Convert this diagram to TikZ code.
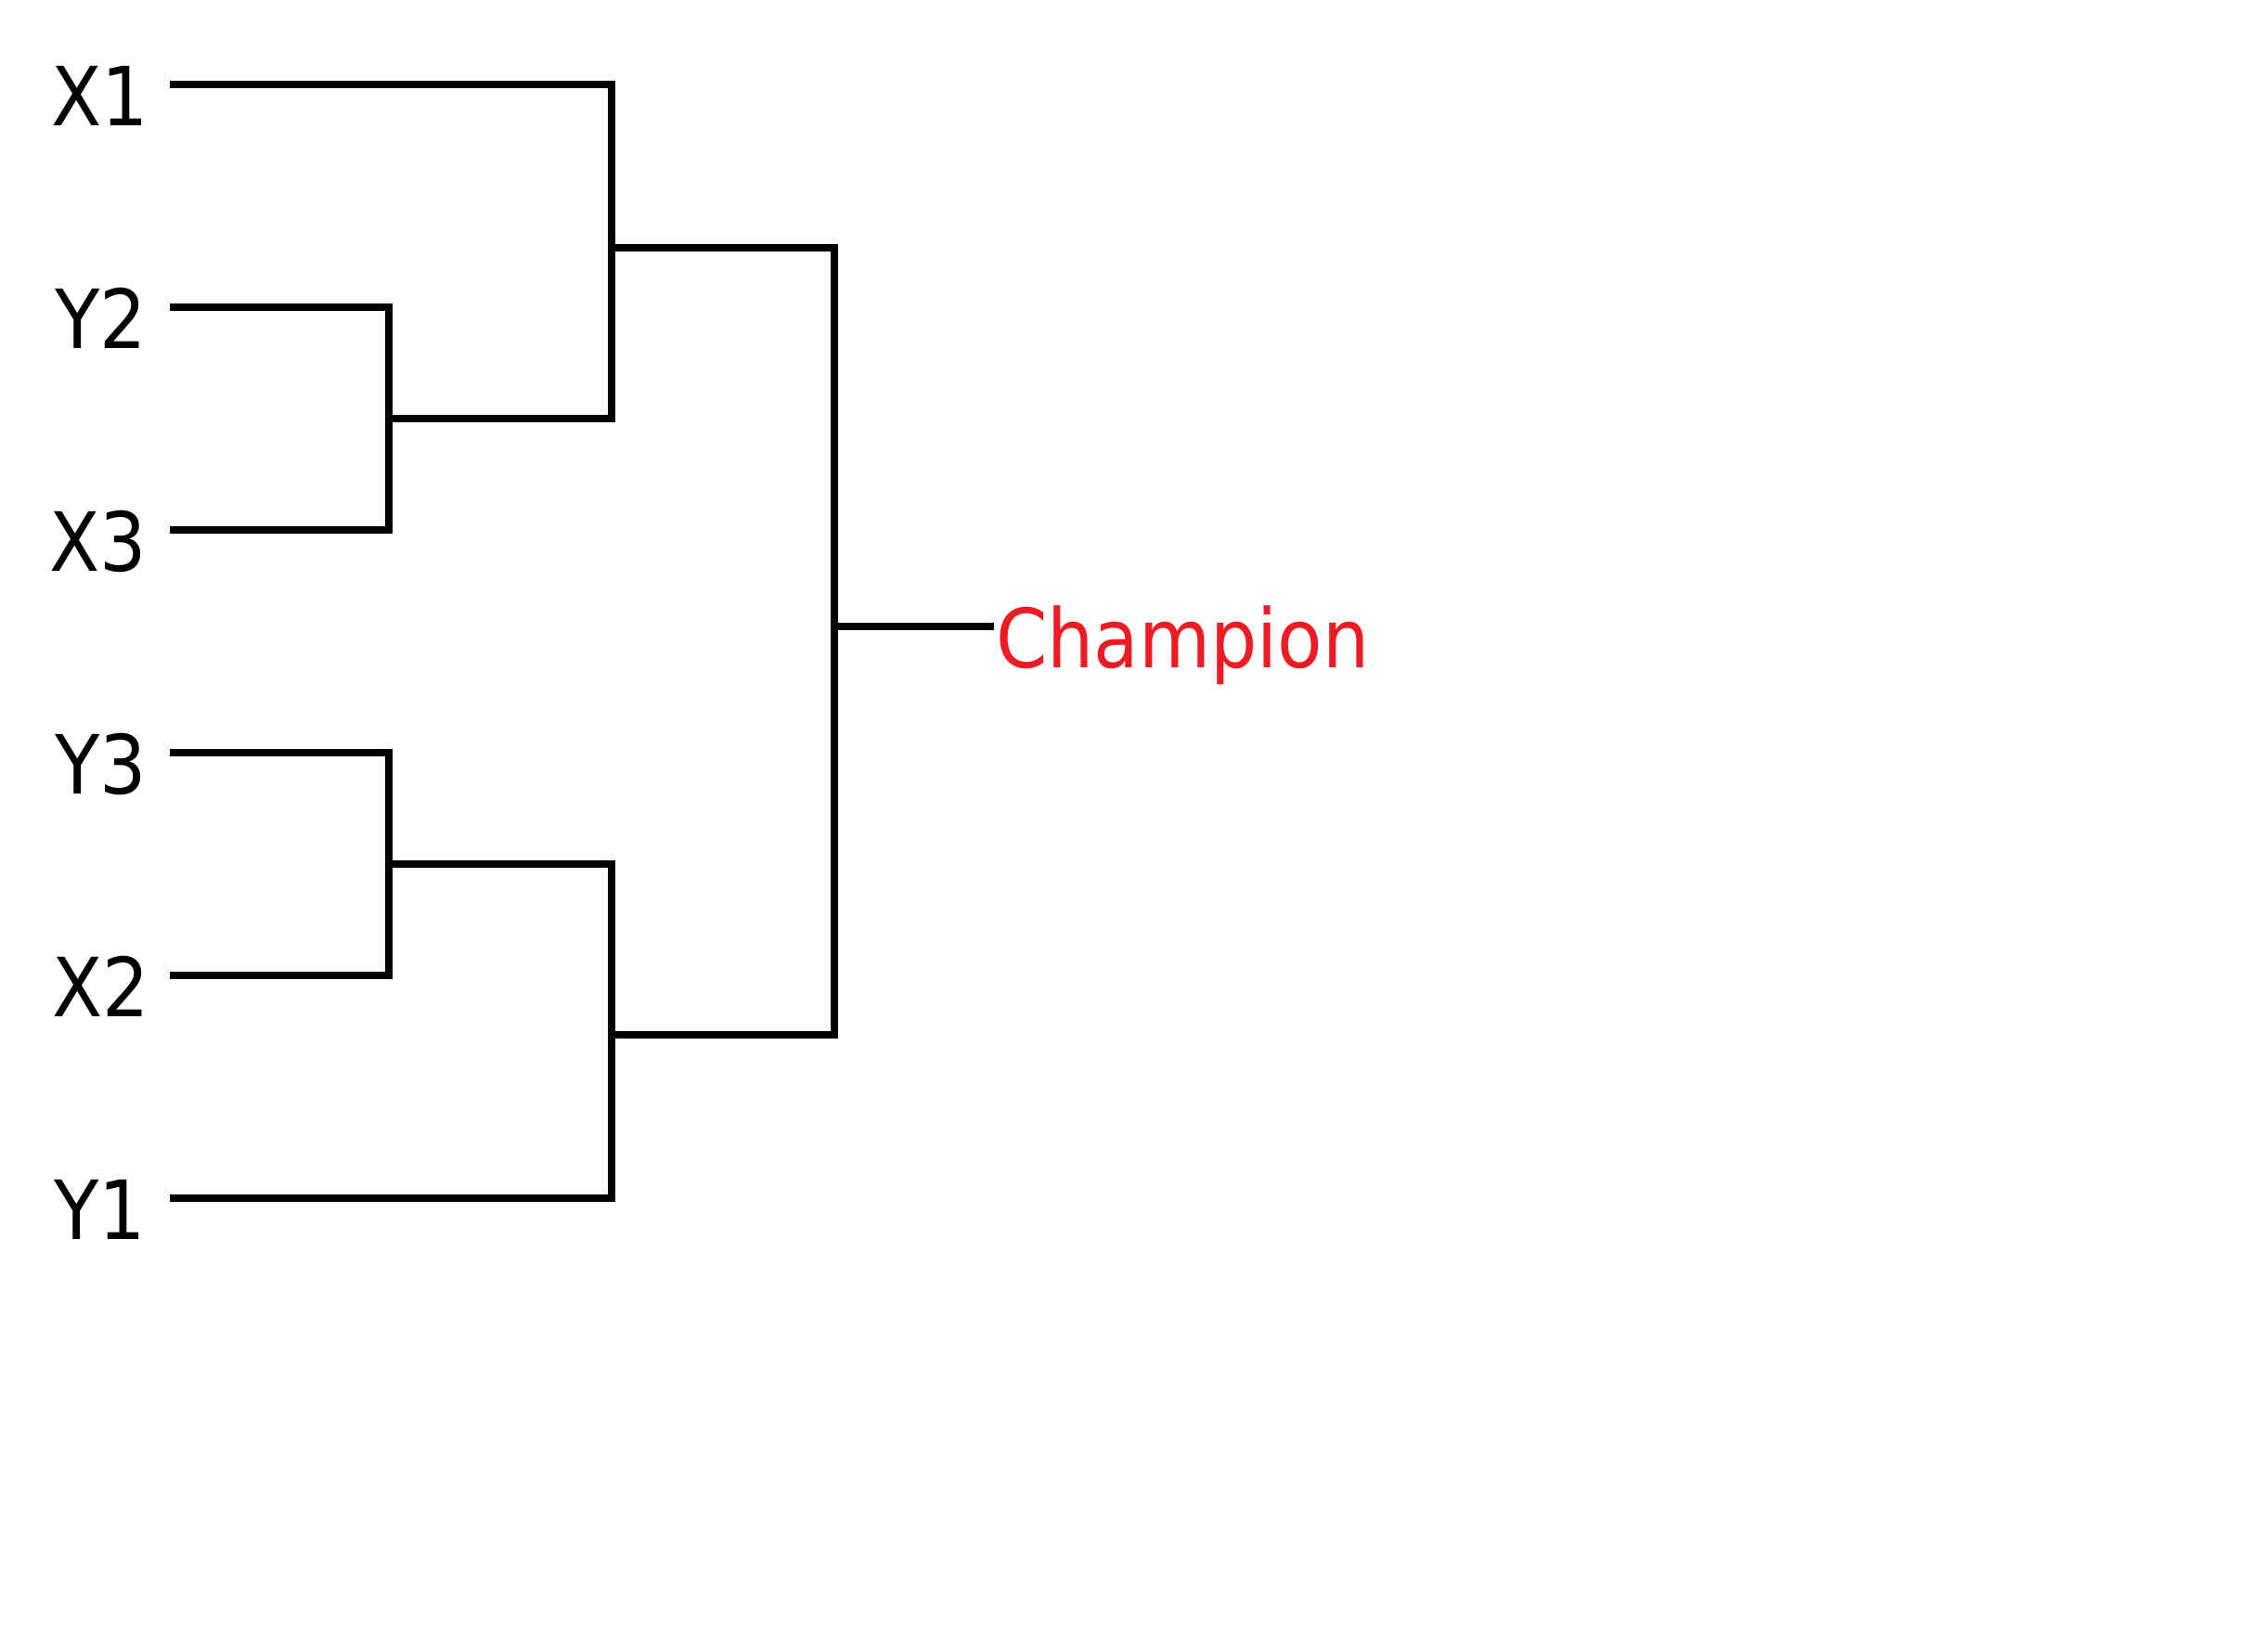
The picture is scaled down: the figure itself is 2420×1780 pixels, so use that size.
\documentclass[tikz,border=0pt]{standalone}
\usepackage{fontspec}
\setmainfont{DejaVu Sans}
\definecolor{champred}{RGB}{237,28,36}
\newcommand{\narrowtxt}[1]{\scalebox{0.9}[1]{#1}}
\begin{document}
\begin{tikzpicture}[x=1pt,y=-1pt,
  bline/.style={draw=black,line width=8pt,line join=miter,line cap=butt},
  lbl/.style={anchor=base east,inner sep=0pt,font=\fontsize{88}{100}\selectfont},
  champlbl/.style={anchor=base west,inner sep=0pt,text=champred,font=\fontsize{88}{100}\selectfont}]
\useasboundingbox (0,0) rectangle (2420,1780);
% labels
\node[lbl] (lX1) at (160,135) {\narrowtxt{X1}};
\node[lbl] (lY2) at (158,375) {\narrowtxt{Y2}};
\node[lbl] (lX3) at (158,615) {\narrowtxt{X3}};
\node[lbl] (lY3) at (158,855) {\narrowtxt{Y3}};
\node[lbl] (lX2) at (161,1095) {\narrowtxt{X2}};
\node[lbl] (lY1) at (157,1335) {\narrowtxt{Y1}};
\node[champlbl] (champ) at (1073,719) {\narrowtxt{Champion}};
% line starts
\coordinate (cX1) at (183,91);
\coordinate (cY2) at (183,331);
\coordinate (cX3) at (183,571);
\coordinate (cY3) at (183,811);
\coordinate (cX2) at (183,1051);
\coordinate (cY1) at (183,1291);
% junctions
\coordinate (jA) at (419,451);
\coordinate (jB) at (659,267);
\coordinate (jC) at (419,931);
\coordinate (jD) at (659,1115);
\coordinate (jE) at (899,675);
\coordinate (cCh) at (1071,675);
% bracket
\draw[bline] (cY2) -| (jA) |- (cX3);
\draw[bline] (cX1) -| (jB) |- (jA);
\draw[bline] (cY3) -| (jC) |- (cX2);
\draw[bline] (jC) -| (jD) |- (cY1);
\draw[bline] (jB) -| (jE) |- (jD);
\draw[bline] (jE) -- (cCh);
\end{tikzpicture}
\end{document}
